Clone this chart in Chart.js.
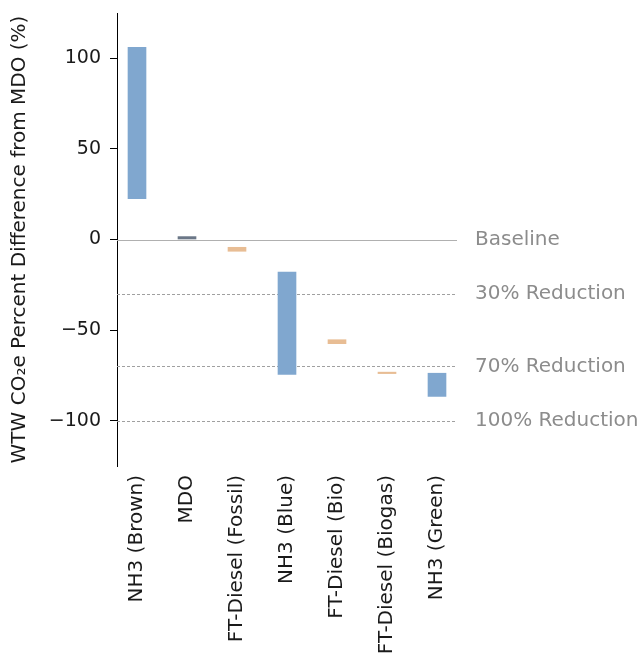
<!DOCTYPE html>
<html>
<head>
<meta charset="utf-8">
<script src="https://cdn.jsdelivr.net/npm/chart.js@4/dist/chart.umd.min.js"></script>
<style>
  html, body { margin: 0; padding: 0; background: #ffffff; }
  #wrap { width: 642px; height: 655px; position: relative; }
</style>
</head>
<body>
<div id="wrap"><canvas id="c" width="642" height="655"></canvas></div>
<script>
// ---- data ----
const categories = ['NH3 (Brown)', 'MDO', 'FT-Diesel (Fossil)', 'NH3 (Blue)', 'FT-Diesel (Bio)', 'FT-Diesel (Biogas)', 'NH3 (Green)'];
const lowValues  = [22.5, 0, -6.5, -74.5, -57.5, -74.0, -86.6];
const highValues = [106.0, 1.6, -4.3, -18.0, -55.3, -73.2, -73.8];
const fuelGroup  = ['nh3', 'mdo', 'ft', 'nh3', 'ft', 'ft', 'nh3'];
const yTickValues = [-100, -50, 0, 50, 100];
const refValues = [0, -30, -70, -100];
const refLabels = ['Baseline', '30% Reduction', '70% Reduction', '100% Reduction'];
const refKinds  = ['solid', 'dashed', 'dashed', 'dashed'];
const yTitle = 'WTW CO\u2082e Percent Difference from MDO (%)';

const groupColors = { nh3: '#80a7cf', mdo: '#6b7787', ft: '#e8bd94' };
const FONT = 'DejaVu Sans';

const refPlugin = {
  id: 'refLines',
  beforeDatasetsDraw(chart) {
    const { ctx, chartArea, scales } = chart;
    ctx.save();
    refValues.forEach((v, i) => {
      const y = Math.round(scales.y.getPixelForValue(v)) + 0.5;
      ctx.beginPath();
      if (refKinds[i] === 'dashed') {
        ctx.setLineDash([3, 2]);
        ctx.strokeStyle = '#a0a0a0';
      } else {
        ctx.setLineDash([]);
        ctx.strokeStyle = '#b0b0b0';
      }
      ctx.lineWidth = 1;
      ctx.moveTo(chartArea.left, y);
      ctx.lineTo(chartArea.right, y);
      ctx.stroke();
    });
    ctx.restore();
  },
  afterDraw(chart) {
    const { ctx, chartArea, scales } = chart;
    ctx.save();
    ctx.setLineDash([]);
    ctx.fillStyle = '#8c8c8c';
    ctx.font = '20px "' + FONT + '"';
    ctx.textBaseline = 'middle';
    ctx.textAlign = 'left';
    refValues.forEach((v, i) => {
      const y = scales.y.getPixelForValue(v);
      ctx.fillText(refLabels[i], chartArea.right + 18, y);
    });
    ctx.restore();
  }
};

new Chart(document.getElementById('c'), {
  type: 'bar',
  data: {
    datasets: [{
      data: categories.map((c, i) => ({ x: i, y: [lowValues[i], highValues[i]] })),
      backgroundColor: fuelGroup.map(g => groupColors[g]),
      borderColor: '#ffffff',
      borderWidth: 0,
      barThickness: 18,
      borderSkipped: false
    }]
  },
  options: {
    responsive: false,
    animation: false,
    devicePixelRatio: 1,
    layout: { padding: { top: 13, right: 185, bottom: 0, left: 0 } },
    plugins: {
      legend: { display: false },
      tooltip: { enabled: false }
    },
    scales: {
      x: {
        type: 'linear',
        min: -0.4,
        max: 6.4,
        offset: false,
        afterBuildTicks(scale) { scale.ticks = categories.map((c, i) => ({ value: i })); },
        afterFit(scale) { scale.height = 189; scale.paddingLeft = 0; scale.paddingRight = 0; },
        grid: { display: false, drawTicks: false },
        border: { display: false },
        ticks: {
          autoSkip: false,
          maxRotation: 90,
          minRotation: 90,
          padding: 9,
          color: '#1a1a1a',
          font: { family: FONT, size: 20 },
          callback: (v) => categories[v]
        }
      },
      y: {
        min: -125,
        max: 125,
        afterBuildTicks(scale) { scale.ticks = yTickValues.map(v => ({ value: v })); },
        afterFit(scale) { scale.width = 117; scale.paddingTop = 0; scale.paddingBottom = 0; },
        grid: { display: true, drawOnChartArea: false, drawTicks: true, tickLength: 7, color: '#000000', lineWidth: 1 },
        border: { display: true, color: '#000000', width: 1 },
        ticks: {
          padding: 9,
          color: '#1a1a1a',
          font: { family: FONT, size: 19 },
          callback: (v) => (v < 0 ? '\u2212' + Math.abs(v) : String(v))
        },
        title: {
          display: true,
          text: yTitle,
          color: '#1a1a1a',
          font: { family: FONT, size: 20 },
          padding: { top: 8, bottom: 0 }
        }
      }
    }
  },
  plugins: [refPlugin]
});
</script>
</body>
</html>
